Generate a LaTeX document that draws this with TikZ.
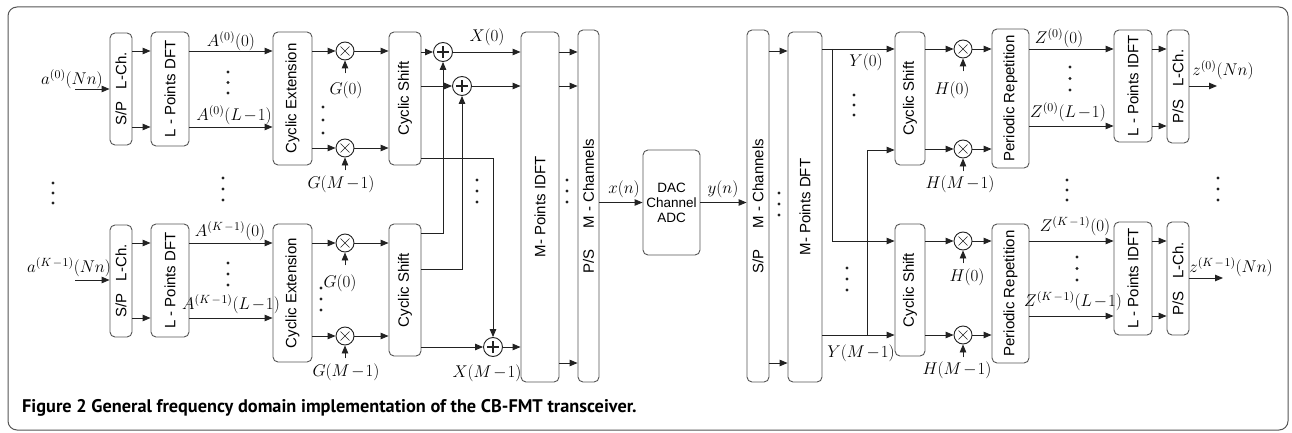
\RequirePackage{fix-cm}
\documentclass[tikz,border=0pt]{standalone}
\usepackage{fontspec}
\setsansfont{Liberation Sans}
\newfontfamily\capfont{PT Sans}
\usetikzlibrary{arrows.meta}
\definecolor{boxc}{HTML}{555555}
\definecolor{wirec}{HTML}{222222}
\definecolor{framec}{HTML}{555555}
\newcommand\bx[6]{\node[blk, minimum width={(#4-#2)*1pt}, minimum height={(#5-#3)*1pt}] (#1) at ({(#2+#4)/2},{(#3+#5)/2}) {\rotatebox{90}{#6}};}
\newcommand\vdts[3]{\foreach \yy in {0,0.5,1} \fill[wirec] ({#1},{#2+\yy*(#3-#2)}) circle (1.6pt);}
\newcommand\mo{\mkern2mu{-}\mkern1mu}
\begin{document}
\begin{tikzpicture}[x=1pt,y=-1pt,
  blk/.style={draw=boxc, line width=0.9pt, fill=white, rounded corners=5pt, inner sep=0pt,
     font=\sffamily\fontsize{15}{15}\selectfont},
  wire/.style={draw=wirec, line width=0.9pt},
  arr/.style={wire, -{Triangle[length=8pt,width=6.5pt]}},
  mult/.style={circle, draw=wirec, line width=0.9pt, minimum size=18pt, inner sep=0pt, fill=white,
     path picture={\draw[wirec, line width=0.6pt]
       ([shift={(-4.5pt,-4.5pt)}]path picture bounding box.center) -- ([shift={(4.5pt,4.5pt)}]path picture bounding box.center)
       ([shift={(-4.5pt,4.5pt)}]path picture bounding box.center) -- ([shift={(4.5pt,-4.5pt)}]path picture bounding box.center);}},
  adder/.style={circle, draw=wirec, line width=0.9pt, minimum size=19pt, inner sep=0pt, fill=white,
     path picture={\draw[wirec, line width=2pt]
       ([xshift=-6pt]path picture bounding box.center) -- ([xshift=6pt]path picture bounding box.center)
       ([yshift=-6pt]path picture bounding box.center) -- ([yshift=6pt]path picture bounding box.center);}},
  lab/.style={inner sep=0pt, font=\fontsize{17}{17}\selectfont}
]
\useasboundingbox (0,0) rectangle (1292,433);
\draw[framec, line width=1pt, rounded corners=9pt] (8,7) rectangle (1288,430);
\foreach \r in {49,51,52,86,89,126,127,148,149,150,158,233,241,243,269,280,316,318,335,336,347,363}
  \coordinate (r\r) at (0,\r);
% ---------- transmitter blocks
\bx{sp0}{110}{33}{132}{145}{S/P\ \ \ L-Ch.}
\bx{dft0}{151}{32}{189}{146}{L - Points DFT}
\bx{ce0}{273}{32}{312}{165}{Cyclic Extension}
\bx{cs0}{389}{32}{421}{165}{Cyclic Shift}
\bx{sp1}{110}{225}{132}{337}{S/P\ \ \ L-Ch.}
\bx{dft1}{151}{224}{189}{337}{L - Points DFT}
\bx{ce1}{273}{224}{312}{362}{Cyclic Extension}
\bx{cs1}{389}{224}{421}{356}{Cyclic Shift}
\bx{idft}{521}{32}{559}{382}{M- Points IDFT}
\bx{ps}{578}{30}{599}{382}{P/S\hspace{1.4em}M - Channels}
\node[blk, minimum width=57pt, minimum height=105pt, align=center, font=\sffamily\fontsize{13.5}{15}\selectfont] (dac) at (671.5,202.5) {DAC\\Channel\\ADC};
% ---------- receiver blocks
\bx{spr}{747}{30}{769}{382}{S/P\hspace{1.4em}M - Channels}
\bx{dftr}{788}{32}{822}{382}{M- Points DFT}
\bx{csr0}{895}{32}{925}{165}{Cyclic Shift}
\bx{csr1}{895}{224}{925}{356}{Cyclic Shift}
\bx{pr0}{992}{29}{1029}{168}{Periodic Repetition}
\bx{pr1}{992}{224}{1029}{363}{Periodic Repetition}
\bx{lidft0}{1114}{30}{1152}{142}{L - Points IDFT}
\bx{lidft1}{1114}{222}{1152}{335}{L - Points IDFT}
\bx{psl0}{1167}{30}{1189}{143}{P/S\ \ \ L-Ch.}
\bx{psl1}{1167}{222}{1189}{335}{P/S\ \ \ L-Ch.}
% ---------- multipliers and adders
\node[mult] (m00) at (345,51) {};
\node[mult] (m01) at (345,148) {};
\node[mult] (m10) at (345,243) {};
\node[mult] (m11) at (345,336) {};
\node[adder] (a1) at (443,52) {};
\node[adder] (a2) at (462,86) {};
\node[adder] (a3) at (493,347) {};
\node[mult] (mr00) at (963,49) {};
\node[mult] (mr01) at (963,149) {};
\node[mult] (mr10) at (963,241) {};
\node[mult] (mr11) at (963,335) {};
% ---------- transmitter wiring
\coordinate (in0) at (75,89);
\coordinate (in1) at (75,280);
\draw[arr] (in0) -- (sp0.west |- in0);
\draw[arr] (in1) -- (sp1.west |- in1);
\foreach \r in {51,127} {
  \draw[arr] (sp0.east |- r\r) -- (dft0.west |- r\r);
  \draw[arr] (dft0.east |- r\r) -- (ce0.west |- r\r);}
\foreach \r in {243,318} {
  \draw[arr] (sp1.east |- r\r) -- (dft1.west |- r\r);
  \draw[arr] (dft1.east |- r\r) -- (ce1.west |- r\r);}
\foreach \m in {m00,m01} {
  \draw[arr] (ce0.east |- \m) -- (\m);
  \draw[arr] (\m) -- (cs0.west |- \m);}
\foreach \m in {m10,m11} {
  \draw[arr] (ce1.east |- \m) -- (\m);
  \draw[arr] (\m) -- (cs1.west |- \m);}
\foreach \m in {m00,m01,m10,m11}
  \draw[arr] ([yshift=-13pt]\m.south) -- (\m.south);
\draw[arr] (cs0.east |- a1) -- (a1);
\draw[arr] (cs0.east |- a2) -- (a2);
\draw[arr] (cs0.east |- r158) -| (a3.north);
\draw[arr] (cs1.east |- r233) -| (a1.south);
\draw[arr] (cs1.east |- r269) -| (a2.south);
\draw[arr] (cs1.east |- a3) -- (a3);
\draw[arr] (a1) -- (idft.west |- a1);
\draw[arr] (a2) -- (idft.west |- a2);
\draw[arr] (a3) -- (idft.west |- a3);
\foreach \r in {52,86,363}
  \draw[arr] (idft.east |- r\r) -- (ps.west |- r\r);
\draw[arr] (ps.east |- dac) -- (dac);
\draw[arr] (dac) -- (spr.west |- dac);
% ---------- receiver wiring
\foreach \r in {51,363}
  \draw[arr] (spr.east |- r\r) -- (dftr.west |- r\r);
\draw[arr] (dftr.east |- r49) -- (csr0.west |- r49);
\coordinate (j1) at (832,49);
\draw[arr] (j1) |- (csr1.west |- r241);
\draw[arr] (dftr.east |- r335) -- (csr1.west |- r335);
\coordinate (j2) at (867,335);
\draw[arr] (j2) |- (csr0.west |- r150);
\foreach \m in {mr00,mr01} {
  \draw[arr] (csr0.east |- \m) -- (\m);
  \draw[arr] (\m) -- (pr0.west |- \m);}
\foreach \m in {mr10,mr11} {
  \draw[arr] (csr1.east |- \m) -- (\m);
  \draw[arr] (\m) -- (pr1.west |- \m);}
\foreach \m in {mr00,mr01,mr10,mr11}
  \draw[arr] ([yshift=-13pt]\m.south) -- (\m.south);
\foreach \r in {49,126} {
  \draw[arr] (pr0.east |- r\r) -- (lidft0.west |- r\r);
  \draw[arr] (lidft0.east |- r\r) -- (psl0.west |- r\r);}
\foreach \r in {241,316} {
  \draw[arr] (pr1.east |- r\r) -- (lidft1.west |- r\r);
  \draw[arr] (lidft1.east |- r\r) -- (psl1.west |- r\r);}
\coordinate (o0) at (1217,86);
\coordinate (o1) at (1223,278);
\draw[arr] (psl0.east |- o0) -- (o0);
\draw[arr] (psl1.east |- o1) -- (o1);
% ---------- labels
\node[lab] (la0) at (72,79) {$a^{(0)}(Nn)$};
\node[lab] (la1) at (69,267) {$a^{(K\mo1)}(Nn)$};
\node[lab] (lA00) at (231,41) {$A^{(0)}(0)$};
\node[lab] (lA01) at (234,115) {$A^{(0)}(L\mo1)$};
\node[lab] (lA10) at (230,231) {$A^{(K\mo1)}(0)$};
\node[lab] (lA11) at (231,304) {$A^{(K\mo1)}(L\mo1)$};
\node[lab] (lg00) at (346,90) {$G(0)$};
\node[lab] (lg01) at (341,184) {$G(M\mo1)$};
\node[lab] (lg10) at (340,283) {$G(0)$};
\node[lab] (lg11) at (346,372) {$G(M\mo1)$};
\node[lab] (lX0) at (487,37) {$X(0)$};
\node[lab] (lX1) at (487,373) {$X(M\mo1)$};
\node[lab] (lx) at (624,189) {$x(n)$};
\node[lab] (ly) at (723,189) {$y(n)$};
\node[lab] (lY0) at (866,62) {$Y(0)$};
\node[lab] (lY1) at (861,353) {$Y(M\mo1)$};
\node[lab] (lh00) at (952,90) {$H(0)$};
\node[lab] (lh01) at (960,184) {$H(M\mo1)$};
\node[lab] (lh10) at (967,277) {$H(0)$};
\node[lab] (lh11) at (957,370) {$H(M\mo1)$};
\node[lab] (lZ00) at (1059,38) {$Z^{(0)}(0)$};
\node[lab] (lZ01) at (1068,112) {$Z^{(0)}(L\mo1)$};
\node[lab] (lZ10) at (1075,226) {$Z^{(K\mo1)}(0)$};
\node[lab] (lZ11) at (1073,301) {$Z^{(K\mo1)}(L\mo1)$};
\node[lab] (lz0) at (1223,70) {$z^{(0)}(Nn)$};
\node[lab] (lz1) at (1231,267) {$z^{(K\mo1)}(Nn)$};
% ---------- dots
\vdts{53}{183}{203}
\vdts{223}{178}{200}
\vdts{228}{72}{93}
\vdts{228}{263}{285}
\vdts{323}{107}{133}
\vdts{321}{288}{310}
\vdts{477}{180}{202}
\vdts{567}{180}{202}
\vdts{779}{193}{215}
\vdts{854}{95}{115}
\vdts{847}{268}{290}
\vdts{1070}{67}{90}
\vdts{1077}{257}{280}
\vdts{1067}{180}{200}
\vdts{1218}{178}{200}
% ---------- caption
\node[anchor=base west, inner sep=0pt, font=\capfont\bfseries\fontsize{18.3}{19}\selectfont] (cap) at (22,412)
  {Figure 2 General frequency domain implementation of the CB-FMT transceiver.};
\end{tikzpicture}
\end{document}
